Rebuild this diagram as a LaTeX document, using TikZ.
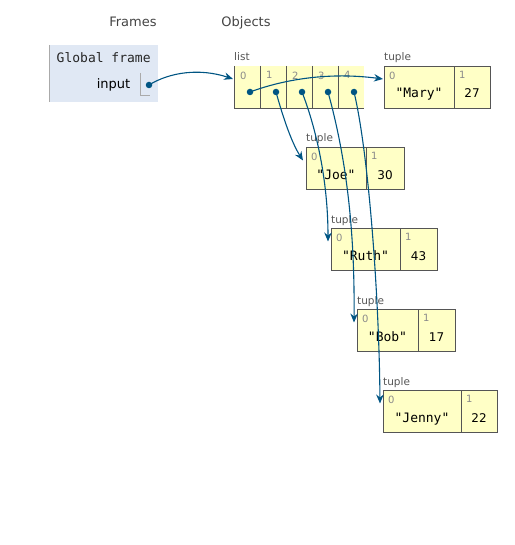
\documentclass[tikz,border=0pt]{standalone}
\usepackage{fontspec}
\usetikzlibrary{arrows.meta,calc}
\newfontfamily\dsans{DejaVu Sans}
\newfontfamily\dmono{DejaVu Sans Mono}
\definecolor{framebg}{HTML}{E0E8F4}
\definecolor{framebar}{HTML}{AAAAAA}
\definecolor{heapfill}{HTML}{FFFFC6}
\definecolor{heapline}{HTML}{555555}
\definecolor{ptrblue}{HTML}{005583}
\definecolor{headtext}{HTML}{444444}
\definecolor{labtext}{HTML}{555555}
\definecolor{idxtext}{HTML}{8A8A8A}

\tikzset{
  header/.style={font=\dsans\fontsize{13}{15}\selectfont, text=headtext, inner sep=0pt, anchor=base},
  cellbox/.style={draw=heapline, line width=0.8pt, fill=heapfill, minimum height=42pt, inner sep=0pt, outer sep=0pt, anchor=north west},
  listcell/.style={fill=heapfill, minimum width=26pt, minimum height=42pt, inner sep=0pt, outer sep=0pt, anchor=north west},
  objlabel/.style={font=\dsans\fontsize{10.5}{12}\selectfont, text=labtext, inner sep=0pt, anchor=base west},
  idx/.style={font=\dsans\fontsize{10}{12}\selectfont, text=idxtext, inner sep=0pt, anchor=north west, xshift=5pt, yshift=-5.5pt},
  strval/.style={font=\dmono\fontsize{13}{15}\selectfont, text=black, inner sep=0pt, anchor=base, yshift=10pt},
  numval/.style={font=\dsans\fontsize{12}{14}\selectfont, text=black, inner sep=0pt, anchor=base, yshift=10pt},
  dot/.style={circle, fill=ptrblue, inner sep=0pt, minimum size=6.5pt},
  ptr/.style={draw=ptrblue, line width=1.1pt, -{Stealth[length=9pt, width=7.5pt, inset=3pt]}},
}

% a two-element tuple: name, x, y, width of cell 0, width of cell 1, string, number
\newcommand{\tupleobj}[7]{%
  \node[cellbox, minimum width=#4pt] (#1a) at (#2,#3) {};
  \node[cellbox, minimum width=#5pt] (#1b) at (#1a.north east) {};
  \node[objlabel] (#1lab) at ($(#1a.north west)+(0,-5)$) {tuple};
  \node[idx] (#1i0) at (#1a.north west) {0};
  \node[idx] (#1i1) at (#1b.north west) {1};
  \node[strval] (#1s) at (#1a.south) {"#6"};
  \node[numval] (#1n) at (#1b.south) {#7};
  \coordinate (#1in) at ($(#1a.north west)+(-3,13.5)$);
}

\begin{document}
\begin{tikzpicture}[x=1pt, y=-1pt]
\useasboundingbox (0,0) rectangle (514,545);

% column headers
\node[header] (hframes) at (133,27) {Frames};
\node[header] (hobjects) at (246,27) {Objects};

% global frame
\fill[framebg] (49,45) rectangle (158,102);
\draw[framebar, line width=1.2pt] (49.6,45) -- (49.6,102);
\node[font=\dmono\fontsize{13}{15}\selectfont, text=black!85, inner sep=0pt, anchor=base west] (gf) at (56.5,63) {Global frame};
\node[font=\dsans\fontsize{13}{15}\selectfont, text=black, inner sep=0pt, anchor=base east] (varin) at (130.5,89) {input};
\draw[framebar, line width=0.9pt] (140.5,73) -- (140.5,95.5) -- (150,95.5);
\node[dot] (inp) at (149,85) {};

% the list
\node[objlabel] (listlab) at (234,61) {list};
\foreach \i in {0,...,4} {
  \node[listcell] (c\i) at (234+26*\i,66) {};
}
\foreach \i in {0,...,4} {
  \draw[heapline, line width=0.8pt] (c\i.north west) -- (c\i.south west);
  \node[idx, xshift=1pt] (ci\i) at (c\i.north west) {\i};
  \node[dot] (l\i) at ($(c\i.north west)+(16,26)$) {};
}
\draw[heapline, line width=0.8pt] (c0.south west) -- (c4.south east);
\coordinate (listin) at ($(c0.north west)+(-1,13)$);

% the tuples
\tupleobj{mary}{384}{66}{70}{36}{Mary}{27}
\tupleobj{joe}{306}{147}{60}{38}{Joe}{30}
\tupleobj{ruth}{331}{228}{69}{37}{Ruth}{43}
\tupleobj{bob}{357}{309}{61}{37}{Bob}{17}
\tupleobj{jenny}{383}{390}{78}{36}{Jenny}{22}
\coordinate (maryin) at ($(marya.north west)+(-1,13)$);

% references
\draw[ptr] (inp.center) .. controls (170,72) and (200,68) .. (listin);
\draw[ptr] (l0.center) .. controls (285,79) and (330,72) .. (maryin);
\draw[ptr] (l1.center) .. controls (281,110) and (290,140) .. (joein);
\draw[ptr] (l2.center) .. controls (316,128) and (328,180) .. (ruthin);
\draw[ptr] (l3.center) .. controls (344,150) and (355,220) .. (bobin);
\draw[ptr] (l4.center) .. controls (368,150) and (379,290) .. (jennyin);
\end{tikzpicture}
\end{document}
